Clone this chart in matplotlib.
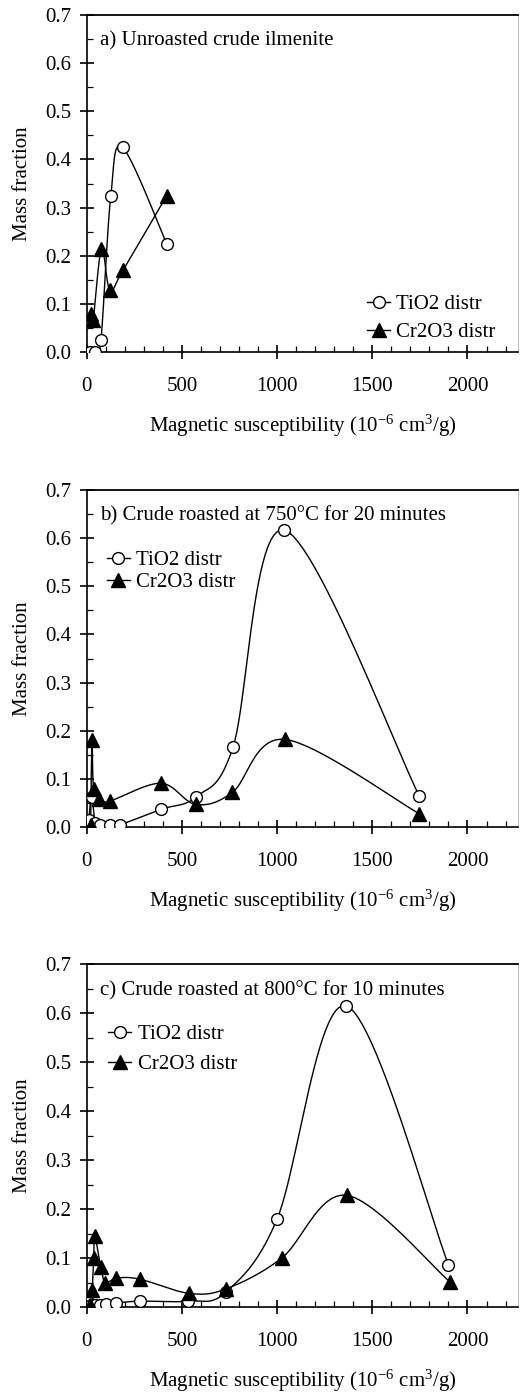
import numpy as np
import matplotlib
matplotlib.use("Agg")
import matplotlib.pyplot as plt
from matplotlib.lines import Line2D
from matplotlib.ticker import MultipleLocator, FormatStrFormatter

plt.rcParams['font.family'] = ['Liberation Serif', 'DejaVu Serif']
plt.rcParams['mathtext.fontset'] = 'custom'
plt.rcParams['mathtext.rm'] = 'Liberation Serif'
plt.rcParams['mathtext.it'] = 'Liberation Serif:italic'
plt.rcParams['font.size'] = 15

# panel a) unroasted crude ilmenite
tio2_a_x = [16, 42, 74, 126, 188, 420]
tio2_a_y = [0.0, 0.0, 0.025, 0.325, 0.425, 0.225]
cr2o3_a_x = [21, 33, 77, 121, 190, 420]
cr2o3_a_y = [0.08, 0.066, 0.215, 0.128, 0.17, 0.325]

# panel b) roasted 750C, 20 min
tio2_b_x = [10, 25, 45, 70, 120, 175, 391, 576, 768, 1038, 1747]
tio2_b_y = [0.015, 0.062, 0.008, 0.005, 0.005, 0.005, 0.037, 0.063, 0.166, 0.617, 0.064]
cr2o3_b_x = [20, 27, 35, 66, 121, 389, 572, 765, 1042, 1745]
cr2o3_b_y = [0.005, 0.18, 0.08, 0.058, 0.054, 0.091, 0.047, 0.072, 0.182, 0.028]

# panel c) roasted 800C, 10 min
tio2_c_x = [5, 20, 45, 70, 100, 152, 277, 534, 729, 1000, 1362, 1900]
tio2_c_y = [0.01, 0.005, 0.005, 0.005, 0.006, 0.008, 0.012, 0.012, 0.03, 0.18, 0.615, 0.086]
cr2o3_c_x = [18, 28, 36, 42, 72, 98, 155, 277, 536, 731, 1024, 1366, 1906]
cr2o3_c_y = [0.005, 0.035, 0.10, 0.146, 0.082, 0.05, 0.059, 0.057, 0.028, 0.037, 0.10, 0.228, 0.052]

titles = ["a) Unroasted crude ilmenite",
          "b) Crude roasted at 750\u00b0C for 20 minutes",
          "c) Crude roasted at 800\u00b0C for 10 minutes"]


def smooth(x, y, n=25):
    # excel-like smoothed line (bezier through the points)
    pts = np.column_stack([x, y]).astype(float)
    out = [pts[0]]
    t = np.linspace(0, 1, n)[1:, None]
    for i in range(len(pts) - 1):
        p0 = pts[i - 1] if i > 0 else pts[i]
        p1 = pts[i]
        p2 = pts[i + 1]
        p3 = pts[i + 2] if i + 2 < len(pts) else pts[i + 1]
        c1 = p1 + (p2 - p0) / 6.0
        c2 = p2 - (p3 - p1) / 6.0
        seg = (1 - t) ** 3 * p1 + 3 * (1 - t) ** 2 * t * c1 \
            + 3 * (1 - t) * t ** 2 * c2 + t ** 3 * p2
        out.extend(seg)
    out = np.array(out)
    return out[:, 0], out[:, 1]


fig = plt.figure(figsize=(5.2, 13.97), dpi=100)

panels = [
    (tio2_a_x, tio2_a_y, cr2o3_a_x, cr2o3_a_y),
    (tio2_b_x, tio2_b_y, cr2o3_b_x, cr2o3_b_y),
    (tio2_c_x, tio2_c_y, cr2o3_c_x, cr2o3_c_y),
]
# left, bottom, width, height in figure fraction
boxes = [[0.167, 0.748, 0.829, 0.2412],
         [0.167, 0.408, 0.829, 0.2412],
         [0.167, 0.0644, 0.829, 0.2455]]
legend_pos = [(0.650, 0.170), (0.046, 0.820), (0.050, 0.823)]
legend_space = [0.4, 0.1, 0.5]

for k, (tx, ty, cx, cy) in enumerate(panels):
    ax = fig.add_axes(boxes[k])
    sx, sy = smooth(tx, ty)
    ax.plot(sx, sy, color="black", lw=1.0)
    sx, sy = smooth(cx, cy)
    ax.plot(sx, sy, color="black", lw=1.0)
    ax.plot(tx, ty, "o", ms=8.5, mfc="white", mec="black", mew=1.0, zorder=3)
    ax.plot(cx, cy, "^", ms=9.5, mfc="black", mec="black", zorder=3)

    ax.set_xlim(0, 2265)
    ax.set_ylim(0, 0.7)
    ax.xaxis.set_major_locator(MultipleLocator(500))
    ax.xaxis.set_minor_locator(MultipleLocator(100))
    ax.yaxis.set_major_locator(MultipleLocator(0.1))
    ax.yaxis.set_minor_locator(MultipleLocator(0.05))
    ax.yaxis.set_major_formatter(FormatStrFormatter("%.1f"))
    ax.tick_params(which="major", direction="inout", length=10, width=1.2)
    ax.tick_params(which="minor", direction="in", length=4, width=0.9)
    ax.tick_params(axis="x", which="major", pad=13)
    ax.tick_params(axis="y", which="major", pad=6)
    ax.spines["right"].set_color("0.75")
    ax.spines["right"].set_linewidth(0.7)
    ax.spines["top"].set_linewidth(1.3)
    ax.spines["left"].set_linewidth(1.2)
    ax.spines["bottom"].set_linewidth(1.2)

    ax.set_ylabel("Mass fraction", labelpad=10)
    ax.set_xlabel(r"Magnetic susceptibility (10$^{-6}$ cm$^{3}$/g)", labelpad=12)
    ax.text(0.03, 0.923, titles[k], transform=ax.transAxes, va="center", ha="left")

    handles = [Line2D([], [], color="black", lw=1.0, marker="o", ms=8.5,
                      mfc="white", mec="black", mew=1.0),
               Line2D([], [], color="black", lw=1.0, marker="^", ms=9.5,
                      mfc="black", mec="black")]
    ax.legend(handles, ["TiO2 distr", "Cr2O3 distr"], loc="upper left",
              bbox_to_anchor=legend_pos[k], frameon=False, borderpad=0,
              borderaxespad=0, handlelength=1.1, handletextpad=0.3,
              labelspacing=legend_space[k])

fig.savefig("out.png", dpi=100)
